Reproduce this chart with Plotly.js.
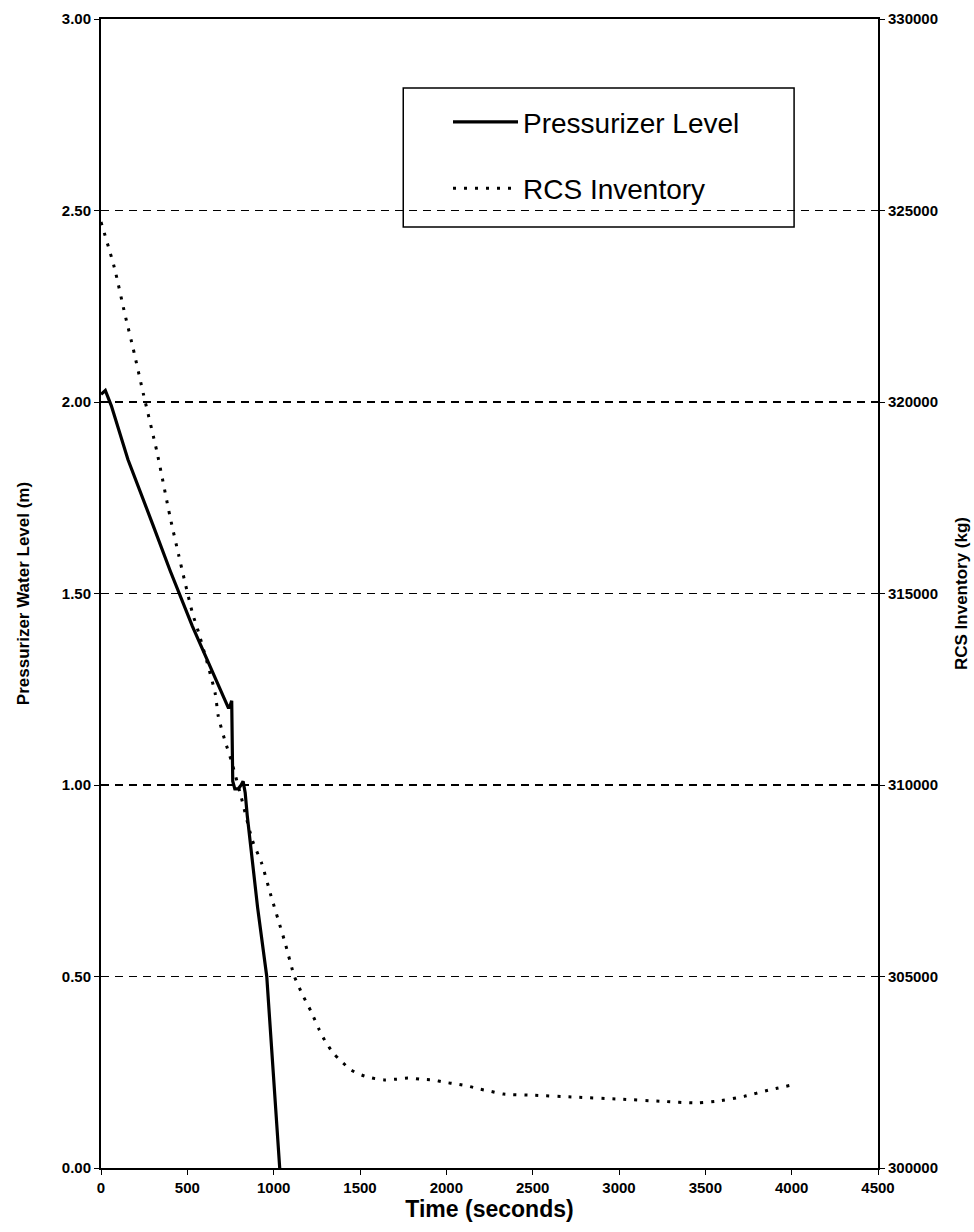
<!DOCTYPE html>
<html>
<head>
<meta charset="utf-8">
<script src="https://cdn.plot.ly/plotly-3.0.1.min.js"></script>
<style>html,body{margin:0;padding:0;background:#fff;}#chart{width:974px;height:1232px;}</style>
</head>
<body>
<div id="chart"></div>
<script>
// Pressurizer water level (m), left axis
const przTime  = [0, 25, 60, 156, 300, 400, 529, 650, 739, 750, 757, 763, 775, 795, 812, 823, 835, 847, 877, 907, 960, 995, 1035];
const przLevel = [2.02, 2.03, 1.99, 1.85, 1.68, 1.56, 1.415, 1.29, 1.20, 1.21, 1.22, 1.01, 0.99, 0.99, 1.00, 1.01, 0.98, 0.92, 0.79, 0.68, 0.50, 0.26, 0.0];

// RCS inventory (kg), right axis
const rcsTime = [0, 78, 138, 186, 246, 324, 400, 450, 529, 571, 661, 679, 715, 757, 811, 877, 931, 985, 1025, 1065, 1120, 1170, 1215, 1265, 1300, 1345, 1388, 1448, 1508, 1568, 1640, 1712, 1778, 1850, 1922, 1988, 2061, 2133, 2193, 2259, 2331, 2500, 2750, 3000, 3250, 3450, 3593, 3725, 3863, 3995];
const rcsMass = [324700, 323500, 322300, 321400, 320200, 318700, 317000, 316000, 314500, 313900, 312400, 311800, 311200, 310600, 309700, 308550, 307950, 307100, 306500, 305900, 305000, 304500, 304100, 303600, 303300, 303000, 302800, 302560, 302430, 302350, 302300, 302320, 302350, 302320, 302300, 302240, 302190, 302130, 302060, 302000, 301930, 301900, 301850, 301800, 301740, 301700, 301760, 301870, 302030, 302160];

const xTicks = [0, 500, 1000, 1500, 2000, 2500, 3000, 3500, 4000, 4500];
const seriesNames = ['Pressurizer Level', 'RCS Inventory'];

const fontFam = 'Liberation Sans, Arial, sans-serif';

const traces = [
  {
    x: przTime, y: przLevel, name: seriesNames[0], type: 'scatter', mode: 'lines',
    line: {color: '#000', width: 3.2}, yaxis: 'y', legendgroup: 'a'
  },
  {
    x: rcsTime, y: rcsMass, name: seriesNames[1], type: 'scatter', mode: 'lines',
    line: {color: '#000', width: 3, dash: '3px,8px', shape: 'spline', smoothing: 0.6}, yaxis: 'y2', legendgroup: 'b'
  }
];

const layout = {
  width: 974, height: 1232,
  margin: {l: 101, r: 96, t: 19, b: 64},
  paper_bgcolor: '#fff', plot_bgcolor: '#fff',
  showlegend: true,
  legend: {
    x: 0.4466, y: 0.932, xanchor: 'left', yanchor: 'top',
    bgcolor: 'rgba(0,0,0,0)', borderwidth: 0,
    font: {family: fontFam, size: 28, color: '#000'},
    tracegroupgap: 27, itemwidth: 65
  },
  xaxis: {
    range: [0, 4500], tickvals: xTicks, ticktext: xTicks.map(String),
    showline: true, linecolor: '#000', linewidth: 2, mirror: true,
    ticks: 'outside', ticklen: 5, tickcolor: '#000', tickwidth: 1,
    showgrid: false, zeroline: false,
    tickfont: {family: fontFam, size: 15, color: '#000', weight: 'bold'},
    title: {text: 'Time (seconds)', font: {family: fontFam, size: 23, color: '#000', weight: 'bold'}, standoff: 6}
  },
  yaxis: {
    range: [0, 3], dtick: 0.5, tickformat: '.2f',
    showline: true, linecolor: '#000', linewidth: 2,
    ticks: 'outside', ticklen: 5, tickcolor: '#000',
    showgrid: true, gridcolor: '#000', gridwidth: 1.3, griddash: '8px,6px',
    zeroline: false,
    tickfont: {family: fontFam, size: 15, color: '#000', weight: 'bold'},
    title: {text: 'Pressurizer Water Level (m)', font: {family: fontFam, size: 17, color: '#000', weight: 'bold'}, standoff: 28}
  },
  yaxis2: {
    range: [300000, 330000], dtick: 5000, tickformat: 'd',
    overlaying: 'y', side: 'right',
    showline: true, linecolor: '#000', linewidth: 2,
    ticks: 'outside', ticklen: 5, tickcolor: '#000',
    showgrid: false, zeroline: false,
    tickfont: {family: fontFam, size: 15, color: '#000', weight: 'bold'},
    title: {text: 'RCS Inventory (kg)', font: {family: fontFam, size: 17, color: '#000', weight: 'bold'}, standoff: 18}
  },
  shapes: [
    {type: 'rect', xref: 'paper', yref: 'paper', x0: 0.389, x1: 0.892, y0: 0.819, y1: 0.940,
     line: {color: '#000', width: 1.5}, fillcolor: '#fff', layer: 'below'}
  ]
};

Plotly.newPlot('chart', traces, layout, {displayModeBar: false, staticPlot: true});
</script>
</body>
</html>
